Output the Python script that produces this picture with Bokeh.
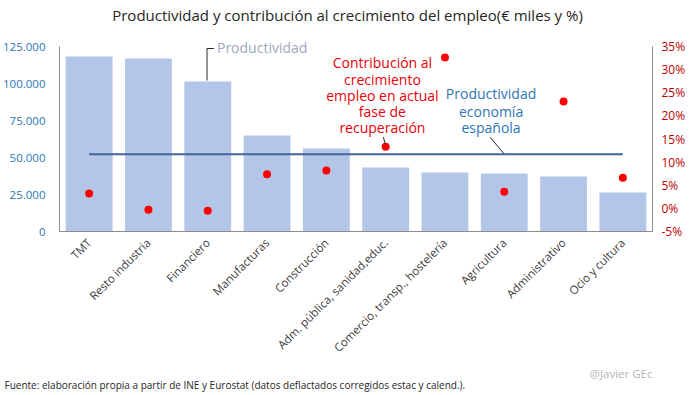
from math import pi
from bokeh.plotting import figure
from bokeh.models import (FactorRange, Range1d, LinearAxis, FixedTicker, PrintfTickFormatter,
                          CustomJSTickFormatter, Label, Title, ColumnDataSource)
from bokeh.embed import file_html
from bokeh.resources import INLINE

# ---------------- data ----------------
categories = ["TMT", "Resto industria", "Financiero", "Manufacturas", "Construcción",
              "Adm. pública, sanidad,educ.", "Comercio, transp., hostelería",
              "Agricultura", "Administrativo", "Ocio y cultura"]
productividad = [118200, 116900, 101400, 64900, 56100, 43200, 39900, 39200, 37200, 26400]
contribucion_pct = [3.2, -0.3, -0.5, 7.4, 8.2, 13.3, 32.6, 3.6, 23.1, 6.6]
productividad_media = 52200
left_ticks = [0, 25000, 50000, 75000, 100000, 125000]
right_ticks = [-5, 0, 5, 10, 15, 20, 25, 30, 35]

title_text = "Productividad y contribución al crecimiento del empleo(€ miles y %)"
footer_text = "Fuente: elaboración  propia  a partir de INE y Eurostat (datos deflactados  corregidos estac y calend.)."
credit_text = "@Javier GEc"
red_lines = ["Contribución al", "crecimiento", "empleo en actual", "fase de", "recuperación"]
blue_lines = ["Productividad", "economía", "española"]

FONT = "Open Sans"
K = 675.7          # value units per pixel on the left axis
FB = 231           # frame bottom in pixels


def yv(py):
    return (FB - py) * K


def xv(px):
    return (px - 57) / 59.5


p = figure(width=692, height=395, x_range=FactorRange(*categories),
           y_range=Range1d(0, 156100), output_backend="svg", toolbar_location=None,
           min_border_left=57, min_border_right=40, min_border_top=0, min_border_bottom=164)
p.extra_y_ranges = {"pct": Range1d(-5, 44.95)}
p.outline_line_color = None
p.xgrid.grid_line_color = None
p.ygrid.grid_line_color = None
p.background_fill_color = "white"

src = ColumnDataSource(dict(cat=categories, prod=productividad, pct=contribucion_pct))
p.vbar(x="cat", top="prod", width=0.79, source=src, fill_color="#b4c6e7", line_color=None)
p.segment(x0=[categories[0]], x1=[categories[-1]], y0=[productividad_media], y1=[productividad_media],
          line_color="#44629c", line_width=2)
p.scatter(x="cat", y="pct", source=src, y_range_name="pct", size=8, fill_color="#ff0000",
          line_color=None)

# left axis
ly = p.yaxis[0]
ly.ticker = FixedTicker(ticks=left_ticks)
ly.bounds = (left_ticks[0], left_ticks[-1])
ly.formatter = CustomJSTickFormatter(code="""
  if (tick == 0) return '0';
  return tick.toFixed(0).replace(/\\B(?=(\\d{3})+(?!\\d))/g, '.');
""")
ly.major_tick_line_color = None
ly.minor_tick_line_color = None
ly.axis_line_color = "#8c8c8c"
ly.major_label_text_color = "#2e75b6"
ly.major_label_text_font = FONT
ly.major_label_text_font_size = "11.5px"
ly.major_label_standoff = 8

# right axis
ry = LinearAxis(y_range_name="pct", ticker=FixedTicker(ticks=right_ticks),
                formatter=PrintfTickFormatter(format="%d%%"))
ry.bounds = (right_ticks[0], right_ticks[-1])
ry.major_tick_line_color = None
ry.minor_tick_line_color = None
ry.axis_line_color = "#8c8c8c"
ry.major_label_text_color = "#c00000"
ry.major_label_text_font = FONT
ry.major_label_text_font_size = "12px"
ry.major_label_standoff = 3
p.add_layout(ry, "right")

# x axis
xa = p.xaxis[0]
xa.major_tick_line_color = None
xa.minor_tick_line_color = None
xa.axis_line_color = "#8c8c8c"
xa.major_label_orientation = pi / 4
xa.major_label_text_color = "#404040"
xa.major_label_text_font = FONT
xa.major_label_text_font_size = "11.5px"
xa.major_label_standoff = 3

# title inside the (extended) frame
p.add_layout(Label(x=xv(346), y=yv(14), text=title_text, text_align="center", text_baseline="middle",
                   text_font=FONT, text_font_size="15px", text_color="#262626"))

# credit and footer below
p.add_layout(Title(text=credit_text, align="right", text_font=FONT, text_font_size="11.5px",
                   text_color="#b4b4b4", text_font_style="normal", standoff=0, offset=0), "below")
p.add_layout(Title(text=footer_text, align="left", text_font=FONT, text_font_size="10px",
                   text_color="#262626", text_font_style="normal", standoff=-10, offset=-55), "below")

# annotations
p.add_layout(Label(x=xv(215), y=yv(47), text="Productividad", text_align="left", text_baseline="middle",
                   text_font=FONT, text_font_size="14px", text_color="#9ea8bd"))
p.line(x=[xv(205), xv(205), xv(212)], y=[yv(80), yv(48), yv(48)], line_color="#262626", line_width=1)

red_y = [62, 78.7, 94.5, 110.7, 127.3]
for t, yy in zip(red_lines, red_y):
    p.add_layout(Label(x=xv(381), y=yv(yy), text=t, text_align="center", text_baseline="middle",
                       text_font=FONT, text_font_size="14px", text_color="#e8000b"))
p.line(x=[xv(382), xv(384)], y=[yv(136.7), yv(144)], line_color="#262626", line_width=1)

blue_y = [93.3, 110.7, 126.7]
for t, yy in zip(blue_lines, blue_y):
    p.add_layout(Label(x=xv(490), y=yv(yy), text=t, text_align="center", text_baseline="middle",
                       text_font=FONT, text_font_size="14px", text_color="#2e75b6"))
p.line(x=[xv(489), xv(503)], y=[yv(136.7), yv(153.3)], line_color="#262626", line_width=1)

open("out.html", "w").write(file_html(p, INLINE))
